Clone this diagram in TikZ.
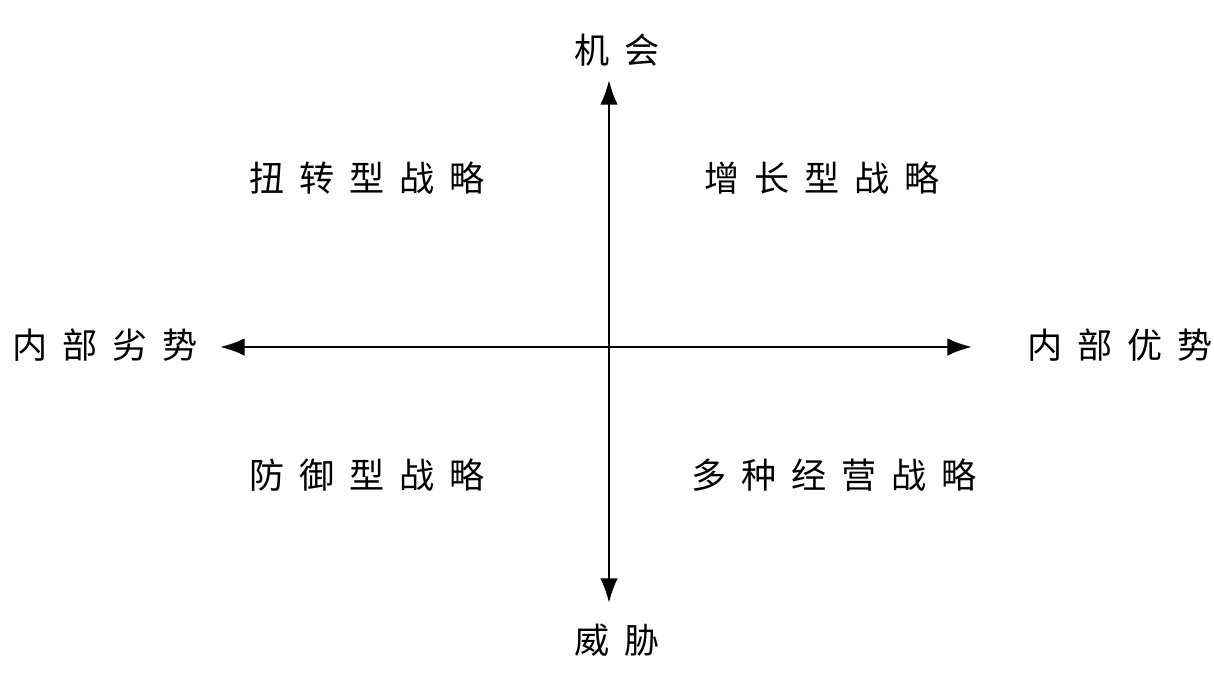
\documentclass[tikz,border=0pt]{standalone}
\usepackage{fontspec}
\newfontfamily\cjk[LetterSpace=42]{Noto Sans CJK SC}
\usetikzlibrary{arrows.meta}
\begin{document}
\begin{tikzpicture}[x=0.02cm,y=-0.02cm,
  lab/.style={font=\cjk\fontsize{20}{24}\selectfont, inner sep=0pt},
  ax/.style={line width=1.4pt,-{Latex[length=14pt,width=10pt]}}]
\useasboundingbox (0,0) rectangle (1214,680);
\coordinate (c) at (609,347);
\coordinate (top) at (609,80);
\coordinate (bot) at (609,603);
\coordinate (lft) at (220,347);
\coordinate (rgt) at (972,347);
\draw[ax] (c) -- (top);
\draw[ax] (c) -- (bot);
\draw[ax] (c) -- (lft);
\draw[ax] (c) -- (rgt);
\node[lab] (o) at (617,50) {机会};
\node[lab] (t) at (617,640) {威胁};
\node[lab] (w) at (105,345) {内部劣势};
\node[lab] (s) at (1120,345) {内部优势};
\node[lab] (q1) at (367,178) {扭转型战略};
\node[lab] (q2) at (822,178) {增长型战略};
\node[lab] (q3) at (367,475) {防御型战略};
\node[lab] (q4) at (834,475) {多种经营战略};
\end{tikzpicture}
\end{document}
